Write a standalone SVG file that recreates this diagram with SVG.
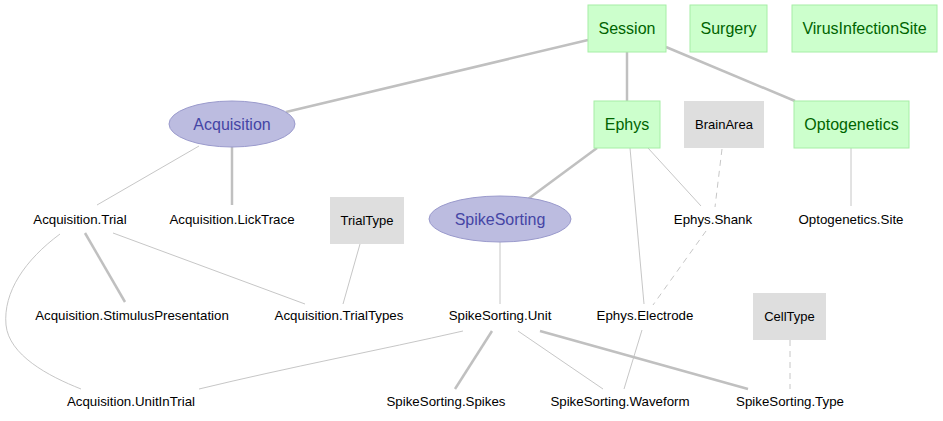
<svg xmlns="http://www.w3.org/2000/svg" width="943" height="421" viewBox="0 0 943 421">
<style>
.g rect{fill:#ccffcc;stroke:#a6eea6;stroke-width:1}
.g text{fill:#006400;font-size:16px}
.p ellipse{fill:#bcbce0;stroke:#9a9acc;stroke-width:1}
.p text{fill:#4545a5;font-size:16px}
.x rect{fill:#dedede;stroke:none}
.x text{fill:#000;font-size:13px}
.t text{fill:#000;font-size:13.3px}
text{font-family:"Liberation Sans",Arial,sans-serif;text-anchor:middle;dominant-baseline:central}
#edges path{fill:none;stroke:#c0c0c0}
.thick{stroke-width:2.5}
.thin{stroke-width:0.9}
.dash{stroke-width:0.9;stroke-dasharray:6,5}
</style>
<rect width="943" height="421" fill="#fff"/>
<g id="edges">
<path class="thick" d="M588,40 L286,112"/>
<path class="thick" d="M627,52 L627,101"/>
<path class="thick" d="M666,47 L795,101"/>
<path class="thin" d="M199,146 L97,205"/>
<path class="thick" d="M232,147 L232,205"/>
<path class="thick" d="M597,148 L528,199"/>
<path class="thin" d="M648,148 L701,206"/>
<path class="thin" d="M630,148 L644,304"/>
<path class="dash" d="M722,149 L715,207 M706,231 L653,305"/>
<path class="thin" d="M851,148 L851,206"/>
<path class="thin" d="M360,244 L343,304"/>
<path class="thick" d="M85,233 L125,302"/>
<path class="thin" d="M113,233 L305,304"/>
<path class="thin" d="M60,234 C25,260 3,292 6,325 C9,355 48,376 81,389"/>
<path class="thin" d="M500,242 L500,304"/>
<path class="thin" d="M463,331 C380,350 290,367 199,389"/>
<path class="thick" d="M492,331 L455,389"/>
<path class="thin" d="M518,331 L603,389"/>
<path class="thick" d="M540,331 L748,389"/>
<path class="thin" d="M642,330 L624,389"/>
<path class="dash" d="M790,340 L790,389"/>
</g>
<g id="Session" class="g"><rect x="588" y="5" width="78" height="47"/><text x="627" y="28">Session</text></g>
<g id="Surgery" class="g"><rect x="690" y="5" width="77" height="47"/><text x="728.5" y="28">Surgery</text></g>
<g id="VirusInfectionSite" class="g"><rect x="792" y="5" width="145" height="47"/><text x="864.5" y="28">VirusInfectionSite</text></g>
<g id="Ephys" class="g"><rect x="594" y="101" width="66" height="47"/><text x="627" y="124">Ephys</text></g>
<g id="BrainArea" class="x"><rect x="684" y="101" width="80" height="47"/><text x="724" y="124">BrainArea</text></g>
<g id="Optogenetics" class="g"><rect x="794" y="101" width="115" height="47"/><text x="851.5" y="124">Optogenetics</text></g>
<g id="Acquisition" class="p"><ellipse cx="232" cy="124" rx="63" ry="23"/><text x="232" y="124">Acquisition</text></g>
<g id="SpikeSorting" class="p"><ellipse cx="500" cy="219" rx="71" ry="23"/><text x="500" y="219">SpikeSorting</text></g>
<g id="TrialType" class="x"><rect x="330" y="197" width="74" height="47"/><text x="367" y="220">TrialType</text></g>
<g id="CellType" class="x"><rect x="753" y="293" width="73" height="47"/><text x="789.5" y="316">CellType</text></g>
<g id="Acquisition.Trial" class="t"><text x="80" y="219">Acquisition.Trial</text></g>
<g id="Acquisition.LickTrace" class="t"><text x="232" y="219">Acquisition.LickTrace</text></g>
<g id="Ephys.Shank" class="t"><text x="713" y="219">Ephys.Shank</text></g>
<g id="Optogenetics.Site" class="t"><text x="851" y="219">Optogenetics.Site</text></g>
<g id="Acquisition.StimulusPresentation" class="t"><text x="132" y="315">Acquisition.StimulusPresentation</text></g>
<g id="Acquisition.TrialTypes" class="t"><text x="339" y="315">Acquisition.TrialTypes</text></g>
<g id="SpikeSorting.Unit" class="t"><text x="500" y="315">SpikeSorting.Unit</text></g>
<g id="Ephys.Electrode" class="t"><text x="645" y="315">Ephys.Electrode</text></g>
<g id="Acquisition.UnitInTrial" class="t"><text x="131" y="401">Acquisition.UnitInTrial</text></g>
<g id="SpikeSorting.Spikes" class="t"><text x="446" y="401">SpikeSorting.Spikes</text></g>
<g id="SpikeSorting.Waveform" class="t"><text x="620" y="401">SpikeSorting.Waveform</text></g>
<g id="SpikeSorting.Type" class="t"><text x="790" y="401">SpikeSorting.Type</text></g>
</svg>
